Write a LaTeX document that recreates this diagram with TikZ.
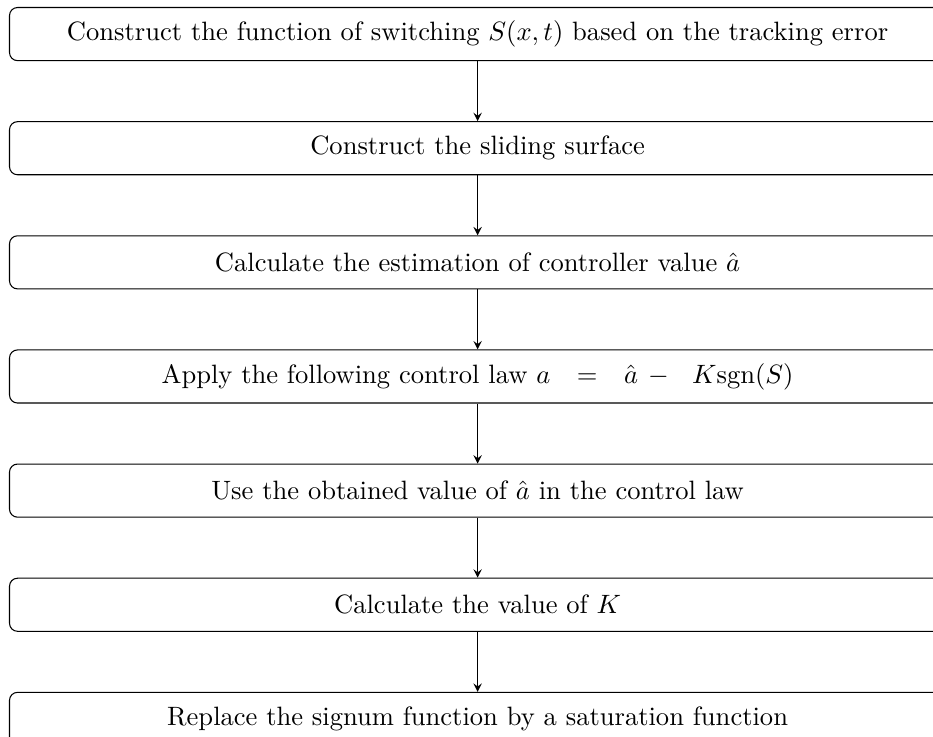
\documentclass[tikz,border=0pt]{standalone}
\usepackage{amsmath}
\usetikzlibrary{
    arrows,
    calc,
    positioning,
}
\tikzstyle{stepbox}=[draw,rectangle,rounded corners=3pt,thin,inner sep=1mm,minimum width=352.7pt,minimum height=20pt,align=center]
\tikzstyle{flow}=[-stealth,thin]

\begin{document}
\begin{tikzpicture}
                \begin{scope}[node distance=22.6pt]
                    \node[stepbox] (s1) {Construct the function of switching $S(x,t)$ based on the tracking error};
                    \node[stepbox,below=of s1] (s2) {Construct the sliding surface};
                    \node[stepbox,below=of s2] (s3) {Calculate the estimation of controller value $\hat{a}$};
                    \node[stepbox,below=of s3] (s4) {Apply the following control law $a\hspace{10pt}{=}\hspace{10pt}\hat{a}\hspace{3.8pt}{-}\hspace{8.8pt}K\mathrm{sgn}(S)$};
                    \node[stepbox,below=of s4] (s5) {Use the obtained value of $\hat{a}$ in the control law};
                    \node[stepbox,below=of s5] (s6) {Calculate the value of $K$};
                    \node[stepbox,below=of s6] (s7) {Replace the signum function by a saturation function};
                    \draw[flow] (s1) -- (s2);
                    \draw[flow] (s2) -- (s3);
                    \draw[flow] (s3) -- (s4);
                    \draw[flow] (s4) -- (s5);
                    \draw[flow] (s5) -- (s6);
                    \draw[flow] (s6) -- (s7);
                    % the page cuts the boxes on the right and at the bottom
                    \pgfresetboundingbox
                    \useasboundingbox ($(s1.north west)+(-3.39pt,2.64pt)$) rectangle ++(351.5pt,-277.3pt);
                \end{scope}
            \end{tikzpicture}
\end{document}
